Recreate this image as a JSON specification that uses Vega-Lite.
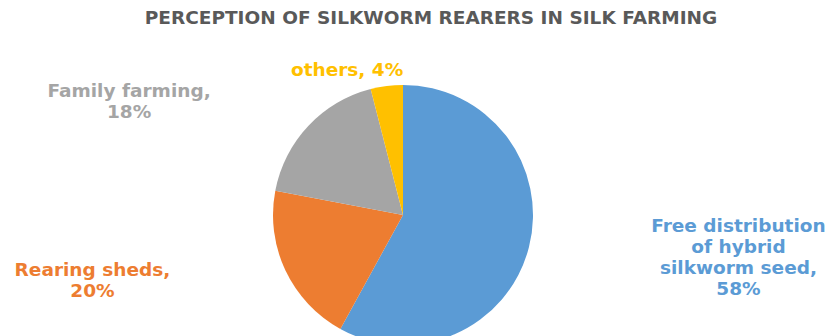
{
  "$schema": "https://vega.github.io/schema/vega-lite/v6.json",
  "width": 838,
  "height": 306,
  "autosize": "none",
  "padding": {"top": 30, "left": 0, "right": 0, "bottom": 0},
  "background": "white",
  "title": {
    "text": "PERCEPTION OF SILKWORM REARERS IN SILK FARMING",
    "font": "DejaVu Sans",
    "fontSize": 18.5,
    "fontWeight": "bold",
    "color": "#595959",
    "anchor": "middle",
    "dx": 12,
    "offset": 3
  },
  "data": {
    "values": [
      {"cat": "Free distribution of hybrid silkworm seed", "value": 58, "label": "Free distribution\nof hybrid\nsilkworm seed,\n58%"},
      {"cat": "Rearing sheds", "value": 20, "label": "Rearing sheds,\n20%"},
      {"cat": "Family farming", "value": 18, "label": "Family farming,\n18%"},
      {"cat": "others", "value": 4, "label": "others, 4%"}
    ]
  },
  "transform": [
    {"stack": "value", "groupby": [], "as": ["v0", "v1"]},
    {"calculate": "(datum.v0 + datum.v1) / 2", "as": "mid"}
  ],
  "encoding": {
    "color": {
      "field": "cat",
      "type": "nominal",
      "scale": {
        "domain": ["Free distribution of hybrid silkworm seed", "Rearing sheds", "Family farming", "others"],
        "range": ["#5B9BD5", "#ED7D31", "#A5A5A5", "#FFC000"]
      },
      "legend": null
    }
  },
  "layer": [
    {
      "mark": {"type": "arc", "radius": 130, "x": 403, "y": 185},
      "encoding": {
        "theta": {"field": "v0", "type": "quantitative", "scale": {"domain": [0, 100]}},
        "theta2": {"field": "v1"}
      }
    },
    {
      "transform": [{"filter": "datum.cat == 'others'"}],
      "mark": {"type": "text", "x": 403, "y": 185, "radius": 151, "dx": -37, "dy": 5, "font": "DejaVu Sans", "fontSize": 18.5, "fontWeight": "bold", "lineBreak": "\n", "lineHeight": 21, "align": "center", "baseline": "middle"},
      "encoding": {"theta": {"field": "mid", "type": "quantitative"}, "text": {"field": "label"}}
    },
    {
      "transform": [{"filter": "datum.cat == 'Family farming'"}],
      "mark": {"type": "text", "x": 403, "y": 185, "radius": 277, "dx": -72, "dy": 66, "font": "DejaVu Sans", "fontSize": 18.5, "fontWeight": "bold", "lineBreak": "\n", "lineHeight": 21, "align": "center", "baseline": "middle"},
      "encoding": {"theta": {"field": "mid", "type": "quantitative"}, "text": {"field": "label"}}
    },
    {
      "transform": [{"filter": "datum.cat == 'Rearing sheds'"}],
      "mark": {"type": "text", "x": 403, "y": 185, "radius": 309, "dx": -31, "dy": -77, "font": "DejaVu Sans", "fontSize": 18.5, "fontWeight": "bold", "lineBreak": "\n", "lineHeight": 21, "align": "center", "baseline": "middle"},
      "encoding": {"theta": {"field": "mid", "type": "quantitative"}, "text": {"field": "label"}}
    },
    {
      "transform": [{"filter": "datum.cat == 'Free distribution of hybrid silkworm seed'"}],
      "mark": {"type": "text", "x": 403, "y": 185, "radius": 336, "dx": 10, "dy": -73, "font": "DejaVu Sans", "fontSize": 18.5, "fontWeight": "bold", "lineBreak": "\n", "lineHeight": 21, "align": "center", "baseline": "middle"},
      "encoding": {"theta": {"field": "mid", "type": "quantitative"}, "text": {"field": "label"}}
    }
  ],
  "config": {"view": {"stroke": null}}
}
